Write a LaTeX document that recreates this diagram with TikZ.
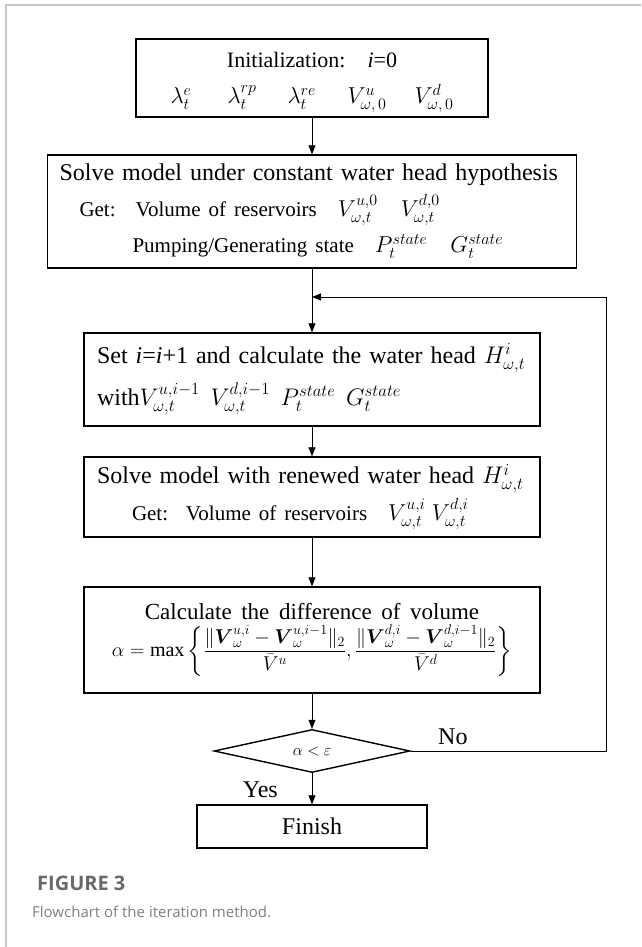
\documentclass[tikz,border=0pt]{standalone}
\usepackage{fix-cm}
\usepackage{amsmath}
\usepackage{fontspec}
\setmainfont{Liberation Serif}
\newfontfamily\capfont{Open Sans}
\usetikzlibrary{shapes.geometric,arrows.meta}

\definecolor{framegray}{RGB}{200,200,200}
\definecolor{capgray}{RGB}{105,105,105}

\begin{document}
\begin{tikzpicture}[
  x=1pt, y=-1pt,
  every node/.style={inner sep=0pt, font=\fontsize{24}{36}\selectfont},
  stepbox/.style={draw, line width=1.4pt},
  flow/.style={draw, line width=0.8pt, -{Triangle[length=9pt,width=7pt]}}
]
  \useasboundingbox (0,0) rectangle (641,947);
  % page frame
  \draw[framegray, line width=1.2pt] (641,5) -- (6,5) -- (6,947);

  \node[stepbox, minimum width=352, minimum height=78, align=center, text depth=0pt,
        font=\fontsize{22}{36}\selectfont] (init) at (312,78)
    {Initialization:\quad \textit{i}=0\\
     {\fontsize{23}{36}\selectfont\makebox[57pt][l]{$\lambda_t^{e}$}\makebox[60pt][l]{$\lambda_t^{rp}$}\makebox[60pt][l]{$\lambda_t^{re}$}\makebox[67pt][l]{$V_{\omega,\,0}^{u}$}$V_{\omega,\,0}^{d}$}};
  \node[stepbox, minimum width=529, minimum height=113, text width=505, align=left] (solve) at (312,211.5)
    {Solve model under constant water head hypothesis\\
     {\fontsize{21}{35}\selectfont\hspace*{20pt}Get:\hspace{20pt}Volume of reservoirs\quad {\fontsize{23}{35}\selectfont$V_{\omega,t}^{u,0}\quad V_{\omega,t}^{d,0}$}}\\
     {\fontsize{21}{35}\selectfont\hspace*{73pt}Pumping/Generating state\quad {\fontsize{23}{35}\selectfont$P_t^{state}\quad G_t^{state}$}}};
  \coordinate (back) at (606,297);
  \node[stepbox, minimum width=456, minimum height=93, text width=430, align=left,
        font=\fontsize{24}{42}\selectfont] (head) at (312,379.5)
    {Set \textit{i}=\textit{i}+1 and calculate the water head $H_{\omega,t}^{i}$\\
     with$V_{\omega,t}^{u,i-1}\;\, V_{\omega,t}^{d,i-1}\;\, P_t^{state}\;\, G_t^{state}$};
  \node[stepbox, minimum width=456, minimum height=80, text width=430, align=left,
        font=\fontsize{24}{37}\selectfont] (renew) at (312,497)
    {Solve model with renewed water head $H_{\omega,t}^{i}$\\
     {\fontsize{21}{37}\selectfont\hspace*{35pt}Get:\; Volume of reservoirs\quad {\fontsize{23}{37}\selectfont$V_{\omega,t}^{u,i}\; V_{\omega,t}^{d,i}$}}};
  \node[stepbox, minimum width=456, minimum height=106, align=center,
        font=\fontsize{23}{28}\selectfont] (diff) at (312,640)
    {Calculate\, the\, difference\, of\, volume\\[4pt]
     {\fontsize{20}{24}\selectfont $\alpha=\max\left\{\dfrac{\|\boldsymbol{V}_{\omega}^{u,i}-\boldsymbol{V}_{\omega}^{u,i-1}\|_2}{\bar{V}^{u}},
       \dfrac{\|\boldsymbol{V}_{\omega}^{d,i}-\boldsymbol{V}_{\omega}^{d,i-1}\|_2}{\bar{V}^{d}}\right\}$}};
  \node[stepbox, diamond, aspect=4.5, minimum width=196, minimum height=43,
        font=\fontsize{16}{18}\selectfont] (check) at (312,751) {$\alpha<\varepsilon$};
  \node[stepbox, minimum width=230, minimum height=43] (finish) at (312,826.5) {Finish};

  \draw[flow] (init.south) -- (solve.north);
  \draw[flow] (solve.south) -- (head.north);
  \draw[flow] (head.south) -- (renew.north);
  \draw[flow] (renew.south) -- (diff.north);
  \draw[flow] (diff.south) -- (check.north);
  \draw[flow] (check.south) -- (finish.north);
  \draw[flow] (check.east) -| (back) -- (back -| head.north);
  \node[anchor=base west] (no) at (438,744) {No};
  \node[anchor=base east] (yes) at (278,797) {Yes};

  % caption
  \node[anchor=base west, font=\capfont\bfseries\fontsize{20}{23}\selectfont, text=capgray] (fig) at (37,890) {FIGURE 3};
  \node[anchor=base west, font=\capfont\fontsize{15}{18}\selectfont, text=capgray!85] (cap) at (32,917) {Flowchart of the iteration method.};
\end{tikzpicture}
\end{document}
